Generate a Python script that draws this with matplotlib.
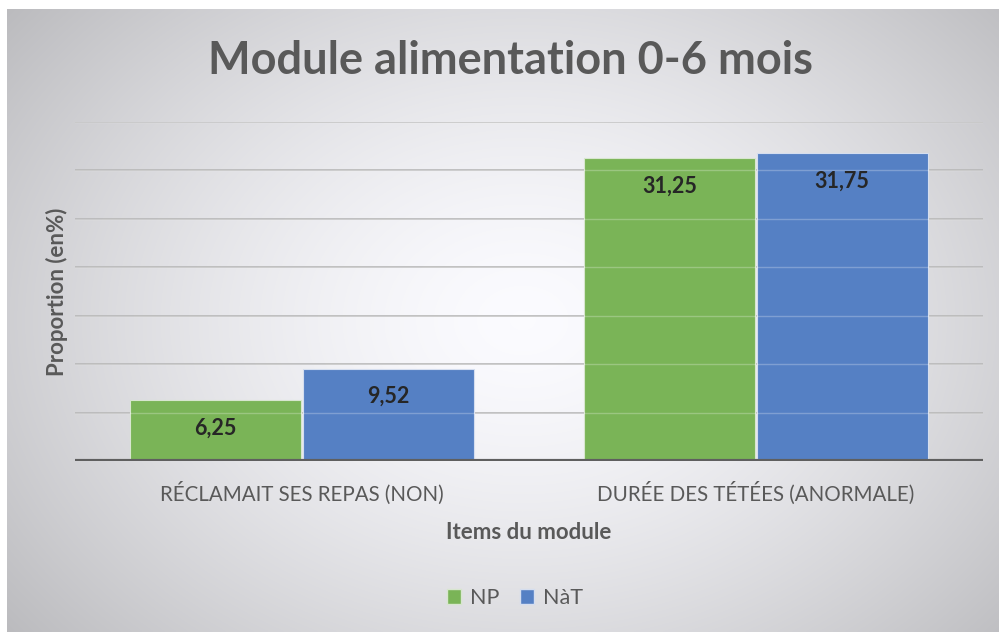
import numpy as np
import matplotlib.pyplot as plt
from matplotlib.patches import Patch

plt.rcParams['font.family'] = ['Lato', 'DejaVu Sans']

# données
categories = ["RÉCLAMAIT SES REPAS (NON)", "DURÉE DES TÉTÉES (ANORMALE)"]
series_names = ["NP", "NàT"]
np_values = [6.25, 31.25]
nat_values = [9.52, 31.75]
value_labels_np = ["6,25", "31,25"]
value_labels_nat = ["9,52", "31,75"]

green = "#7ab457"
blue = "#5580c4"
text_grey = "#595959"

fig = plt.figure(figsize=(9.99, 6.32), dpi=100)
fig.patch.set_facecolor("white")

# fond dégradé radial (style Excel)
bg = fig.add_axes([7 / 999, 0, 1 - 7 / 999, 623 / 632])
bg.set_axis_off()
yy, xx = np.mgrid[0:1:300j, 0:1:480j]
r = np.sqrt(((xx - 0.52) / 0.62) ** 2 + ((yy - 0.50) / 0.75) ** 2)
light = np.clip(1 - 0.23 * r ** 1.5, 0, 1)
rgb = np.dstack([light * 0.985, light * 0.985, light * 0.995 + 0.005])
rgb = np.clip(rgb, 0, 1)
bg.imshow(rgb, aspect="auto", extent=[0, 1, 0, 1], interpolation="bilinear")

ax = fig.add_axes([75 / 999, 1 - 461 / 632, (983 - 75) / 999, (461 - 122) / 632])
ax.set_facecolor("none")

x = np.arange(len(categories))
w = 0.376
b1 = ax.bar(x - w / 2 - 0.002, np_values, w, color=green, edgecolor="#d8e6cf",
            linewidth=0.8, zorder=2)
b2 = ax.bar(x + w / 2 + 0.002, nat_values, w, color=blue, edgecolor="#d5deef",
            linewidth=0.8, zorder=2)

ax.set_ylim(0, 35)
ax.set_xlim(-0.5, 1.5)
yt = np.arange(5, 36, 5)
ax.set_yticks(yt)
ax.yaxis.grid(True, color="#b4b4b4", linewidth=1.2, zorder=0)
ax.set_axisbelow(True)
# lignes légères visibles à travers les barres
for v in yt:
    ax.axhline(v, color="white", alpha=0.25, linewidth=1.0, zorder=3)
ax.axhline(0, color="#5f5f5f", linewidth=3, zorder=4)

ax.tick_params(axis="y", length=0, labelleft=False)
ax.tick_params(axis="x", length=0, pad=15, labelsize=14.8, labelcolor=text_grey)
ax.set_xticks(x)
ax.set_xticklabels(categories)
for s in ax.spines.values():
    s.set_visible(False)

for bars, labels in [(b1, value_labels_np), (b2, value_labels_nat)]:
    for bar, lab in zip(bars, labels):
        ax.annotate(lab, (bar.get_x() + bar.get_width() / 2, bar.get_height()),
                    xytext=(0, -20), textcoords="offset points", ha="center",
                    va="center", fontsize=15.5, fontweight="bold", color="#262626",
                    zorder=5)

ax.set_ylabel("Proportion (en%)", fontsize=16, fontweight="bold",
              color=text_grey, labelpad=5)
ax.set_xlabel("Items du module", fontsize=16, fontweight="bold",
              color=text_grey, labelpad=12)

fig.text(510 / 999, 1 - 61 / 632, "Module alimentation 0-6 mois", ha="center",
         va="center", fontsize=32.5, fontweight="bold", color=text_grey)

handles = [Patch(facecolor=green, edgecolor="#d8e6cf"),
           Patch(facecolor=blue, edgecolor="#d5deef")]
fig.legend(handles, series_names, loc="center", bbox_to_anchor=(515 / 999, 1 - 598 / 632),
           ncol=2, frameon=False, fontsize=15.5, handlelength=0.65, handleheight=0.65,
           handletextpad=0.4, columnspacing=1.0, labelcolor=text_grey)

fig.savefig("out.png", dpi=100)
